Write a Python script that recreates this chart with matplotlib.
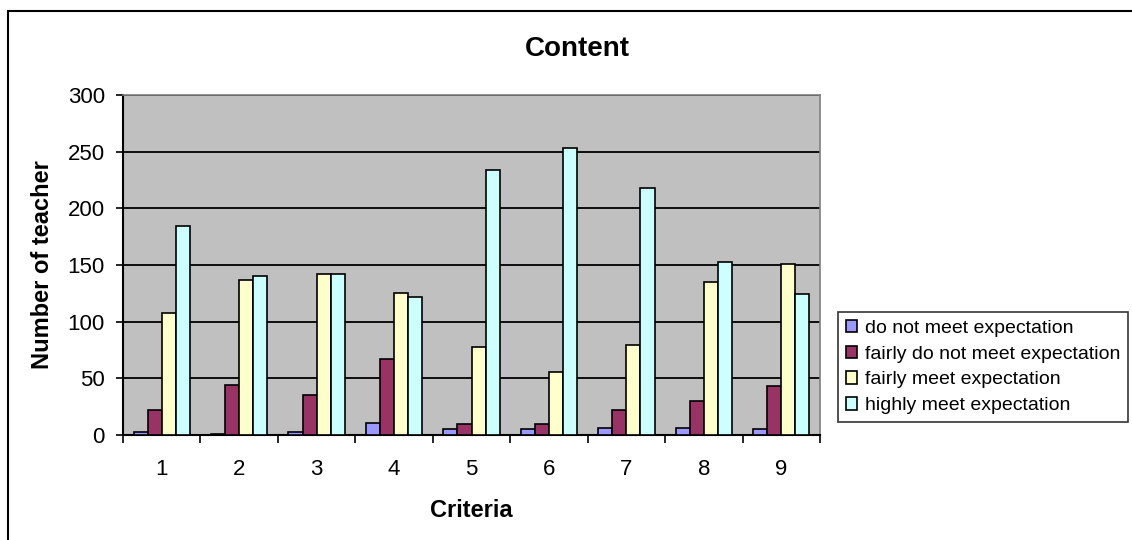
import numpy as np
import matplotlib.pyplot as plt
from matplotlib.patches import Rectangle

plt.rcParams['font.family'] = ['Liberation Sans', 'DejaVu Sans']

# survey counts per criterion
criteria = ['1', '2', '3', '4', '5', '6', '7', '8', '9']
do_not_meet = [3, 1, 3, 11, 5, 5, 6, 6, 5]
fairly_do_not_meet = [22, 44, 35, 67, 10, 10, 22, 30, 43]
fairly_meet = [108, 137, 142, 125, 78, 56, 79, 135, 151]
highly_meet = [184, 140, 142, 122, 234, 253, 218, 153, 124]

series = [
    ('do not meet expectation', do_not_meet, '#9999FF'),
    ('fairly do not meet expectation', fairly_do_not_meet, '#993366'),
    ('fairly meet expectation', fairly_meet, '#FFFFCC'),
    ('highly meet expectation', highly_meet, '#CCFFFF'),
]

fig = plt.figure(figsize=(11.32, 5.4), dpi=100)
W, H = 1132, 540
ax = fig.add_axes([123 / W, 1 - 435 / H, (820 - 123) / W, (435 - 95) / H])
ax.set_facecolor('#C0C0C0')

# outer chart frame (runs off the right and bottom edges)
fig.patches.append(Rectangle((8 / W, -0.05), 1.2, 1 - 11 / H + 0.05,
                             transform=fig.transFigure, fill=False,
                             edgecolor='black', linewidth=1.5))

x = np.arange(1, len(criteria) + 1)
bw = 1 / 5.5
for k, (name, vals, col) in enumerate(series):
    ax.bar(x + (k - 1.5) * bw, vals, bw, color=col, edgecolor='black',
           linewidth=1.2, label=name, zorder=3)

ax.set_xlim(0.5, len(criteria) + 0.5)
ax.set_ylim(0, 300)
ax.set_yticks(np.arange(0, 301, 50))
ax.yaxis.grid(True, color='black', linewidth=1.3, zorder=1)

# ticks at category boundaries, labels at category centres
ax.set_xticks(np.arange(0.5, len(criteria) + 1, 1))
ax.set_xticklabels([])
ax.set_xticks(x, minor=True)
ax.set_xticklabels(criteria, minor=True)
ax.tick_params(axis='x', which='major', length=6, width=1.2, direction='out')
ax.tick_params(axis='x', which='minor', length=0, pad=17, labelsize=16)
ax.tick_params(axis='y', length=5, width=1.2, direction='out', pad=8, labelsize=16)

for s in ['top', 'right']:
    ax.spines[s].set_color('#808080')
    ax.spines[s].set_linewidth(1.2)
for s in ['left', 'bottom']:
    ax.spines[s].set_color('black')
    ax.spines[s].set_linewidth(1.5)

ax.set_ylabel('Number of teacher', fontsize=17, fontweight='bold', labelpad=10)
ax.set_xlabel('Criteria', fontsize=17, fontweight='bold', labelpad=14)
fig.text(577 / W, 1 - 49 / H, 'Content', fontsize=20, fontweight='bold',
         ha='center', va='center')

leg = ax.legend(loc='center left', bbox_to_anchor=(838 / W, 1 - 367 / H),
                bbox_transform=fig.transFigure, fontsize=14, frameon=True,
                fancybox=False, edgecolor='black', handlelength=0.6,
                handleheight=0.6, handletextpad=0.4, labelspacing=0.45,
                borderpad=0.4, borderaxespad=0)
leg.get_frame().set_linewidth(1.2)

fig.savefig('out.png', dpi=100)
